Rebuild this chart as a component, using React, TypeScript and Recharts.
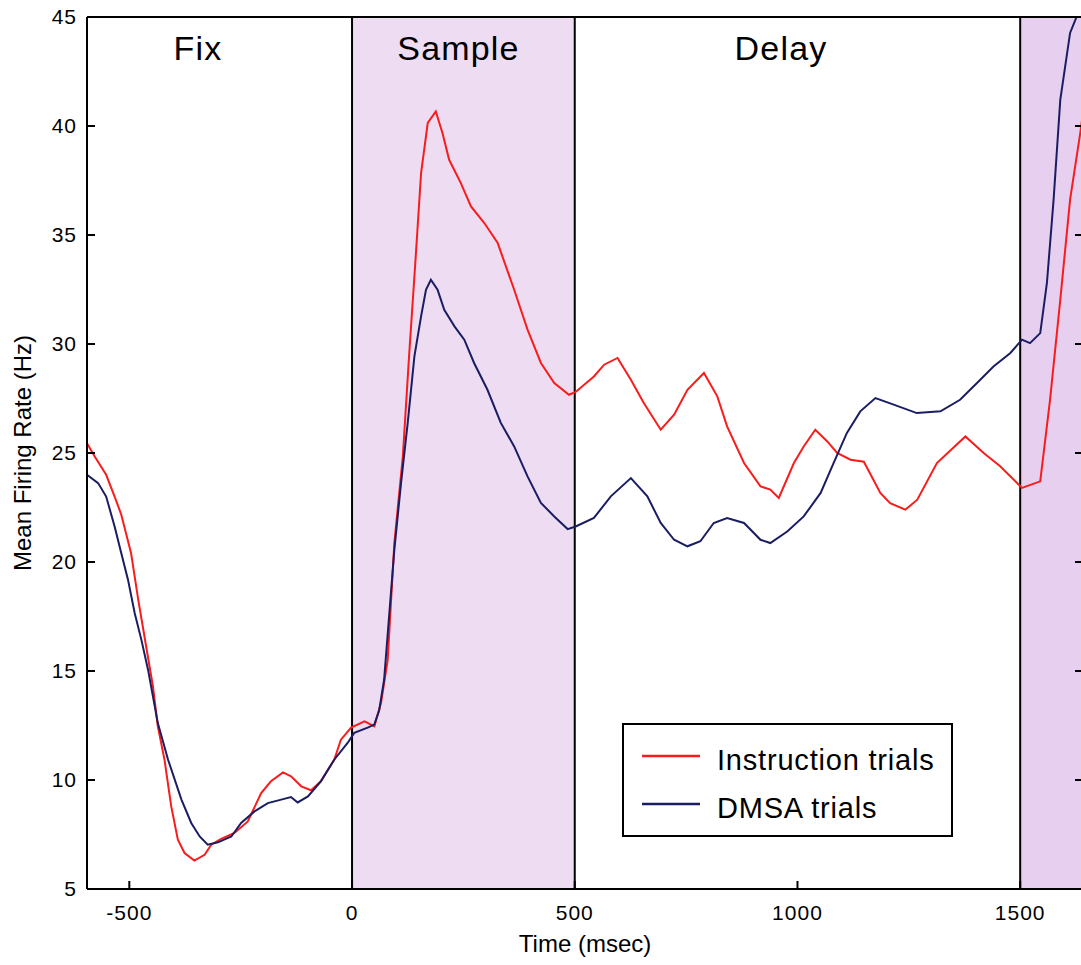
import {
  LineChart,
  Line,
  XAxis,
  YAxis,
  ReferenceArea,
  ReferenceLine,
  ReferenceDot,
  Legend,
} from "recharts";

// time axis (msec) and firing rate (Hz)
const instructionTime = [
  -595, -578, -552, -533, -518, -496, -480, -462, -447, -436, -421, -406, -391, -376, -354, -331, -316, -294,
  -264, -234, -204, -182, -155, -137, -114, -92, -70, -40, -25, -2, 28, 50, 65, 80, 95, 114, 128, 143, 155,
  170, 188, 203, 218, 244, 267, 297, 327, 364, 394, 424, 454, 487, 502, 543, 566, 596, 626, 655, 693, 723,
  753, 790, 820, 842, 880, 917, 939, 958, 992, 1014, 1040, 1067, 1089, 1119, 1149, 1186, 1208, 1242, 1269,
  1313, 1377, 1418, 1455, 1504, 1545, 1567, 1590, 1612, 1635, 1641,
];
const instructionRate = [
  25.45, 24.85, 24.0, 23.0, 22.17, 20.4, 18.27, 16.1, 14.3, 12.46, 10.93, 8.8, 7.26, 6.65, 6.3, 6.57, 7.03,
  7.3, 7.57, 8.1, 9.4, 9.94, 10.35, 10.17, 9.71, 9.53, 9.94, 10.93, 11.85, 12.4, 12.69, 12.46, 13.53, 15.5,
  20.87, 24.84, 29.43, 34.02, 37.84, 40.14, 40.67, 39.68, 38.45, 37.39, 36.31, 35.55, 34.63, 32.49, 30.66,
  29.13, 28.21, 27.67, 27.8, 28.51, 29.05, 29.36, 28.36, 27.29, 26.07, 26.76, 27.9, 28.67, 27.6, 26.22,
  24.54, 23.47, 23.32, 22.94, 24.54, 25.3, 26.07, 25.53, 25.0, 24.69, 24.6, 23.17, 22.7, 22.4, 22.86, 24.54,
  25.76, 25.0, 24.39, 23.4, 23.7, 27.44, 32.03, 36.62, 39.7, 40.6,
];

const dmsaTime = [
  -595, -570, -552, -533, -518, -503, -488, -473, -458, -436, -413, -383, -361, -342, -324, -301, -271, -249,
  -219, -189, -159, -137, -122, -99, -70, -40, -10, 5, 35, 50, 61, 72, 95, 110, 125, 140, 155, 166, 177, 192,
  207, 230, 252, 274, 304, 334, 364, 394, 424, 454, 484, 502, 543, 581, 626, 663, 693, 723, 753, 782, 812,
  842, 880, 917, 939, 977, 1014, 1052, 1081, 1111, 1141, 1175, 1216, 1268, 1321, 1365, 1403, 1440, 1478,
  1504, 1522, 1545, 1560, 1575, 1590, 1612, 1627, 1641,
];
const dmsaRate = [
  24.0, 23.62, 23.0, 21.63, 20.4, 19.19, 17.66, 16.44, 15.06, 12.61, 10.93, 9.1, 8.03, 7.41, 7.03, 7.14, 7.41,
  8.03, 8.56, 8.94, 9.1, 9.22, 8.97, 9.25, 9.94, 10.93, 11.7, 12.16, 12.4, 12.54, 13.2, 14.6, 20.57, 23.62,
  26.38, 29.43, 31.27, 32.49, 32.95, 32.49, 31.57, 30.81, 30.2, 29.13, 27.9, 26.38, 25.3, 23.93, 22.71, 22.09,
  21.51, 21.63, 22.02, 23.01, 23.85, 23.01, 21.79, 21.02, 20.72, 20.95, 21.79, 22.02, 21.79, 21.02, 20.87,
  21.4, 22.09, 23.17, 24.54, 25.92, 26.91, 27.52, 27.22, 26.83, 26.91, 27.44, 28.21, 28.97, 29.59, 30.2,
  30.04, 30.5, 32.8, 36.62, 41.2, 44.27, 45.03, 47.5,
];

const seriesNames = ["Instruction trials", "DMSA trials"];
const xTicks = [-500, 0, 500, 1000, 1500];
const yTicks = [5, 10, 15, 20, 25, 30, 35, 40, 45];
const xDomain = [-595, 1641];
const yDomain = [5, 45];

const epochEdges = [0, 500, 1500];
const phaseNames = ["Fix", "Sample", "Delay"];
const phaseCenters = [-346, 239, 963];
const phaseLevel = 43.6;

const instructionData = instructionTime.map((t, i) => ({ t, rate: instructionRate[i] }));
const dmsaData = dmsaTime.map((t, i) => ({ t, rate: dmsaRate[i] }));

const FONT = '"Liberation Sans", Arial, Helvetica, sans-serif';
const RED = "#f81c1c";
const NAVY = "#1b1d62";

function LegendBox({ payload }: any) {
  // keep the plotting order, not the alphabetical one
  const items = [...(payload ?? [])].sort(
    (a: any, b: any) => seriesNames.indexOf(a.value) - seriesNames.indexOf(b.value)
  );
  return (
    <svg width={331} height={114} style={{ display: "block" }}>
      <rect x={1} y={1} width={329} height={112} fill="#fff" stroke="#000" strokeWidth={2} />
      {items.map((p: any, i: number) => (
        <g key={p.value}>
          <line x1={20} x2={78} y1={33 + i * 48} y2={33 + i * 48} stroke={p.color} strokeWidth={2.5} />
          <text x={95} y={47 + i * 48} fontSize={29} letterSpacing={0.8} fill="#000" fontFamily={FONT}>
            {p.value}
          </text>
        </g>
      ))}
    </svg>
  );
}

export default function App() {
  const tickStyle = { fontSize: 21, fill: "#000", fontFamily: FONT, letterSpacing: 1 };
  return (
    <div
      style={{
        position: "fixed",
        left: 0,
        top: 0,
        width: 1081,
        height: 965,
        overflow: "hidden",
        background: "#fff",
        fontFamily: FONT,
      }}
    >
      <LineChart width={1100} height={965} margin={{ top: 16, right: 16, bottom: 0, left: 0 }}>
        <ReferenceArea x1={0} x2={500} fill="#eddcf2" fillOpacity={1} stroke="none" />
        <ReferenceArea x1={1500} x2={xDomain[1]} fill="#e7cfef" fillOpacity={1} stroke="none" />
        {epochEdges.map((x) => (
          <ReferenceLine key={x} x={x} stroke="#000" strokeWidth={2} />
        ))}
        <XAxis
          type="number"
          dataKey="t"
          domain={xDomain}
          ticks={xTicks}
          allowDataOverflow
          height={76}
          tickSize={-8}
          tickMargin={24}
          tick={tickStyle}
          tickLine={{ stroke: "#000", strokeWidth: 2 }}
          axisLine={{ stroke: "#000", strokeWidth: 2 }}
          label={{
            value: "Time (msec)",
            position: "insideBottom",
            offset: 13,
            fontSize: 24,
            fill: "#000",
            fontFamily: FONT,
          }}
        />
        <XAxis
          xAxisId="top"
          orientation="top"
          type="number"
          domain={xDomain}
          ticks={xTicks}
          allowDataOverflow
          height={1}
          tickSize={-8}
          tickFormatter={() => ""}
          tickLine={{ stroke: "#000", strokeWidth: 2 }}
          axisLine={{ stroke: "#000", strokeWidth: 2 }}
        />
        <YAxis
          type="number"
          domain={yDomain}
          ticks={yTicks}
          allowDataOverflow
          width={87}
          tickSize={-8}
          tickMargin={18}
          tick={tickStyle}
          tickLine={{ stroke: "#000", strokeWidth: 2 }}
          axisLine={{ stroke: "#000", strokeWidth: 2 }}
          label={{
            value: "Mean Firing Rate (Hz)",
            angle: -90,
            position: "insideLeft",
            offset: 22,
            fontSize: 24,
            fill: "#000",
            fontFamily: FONT,
            style: { textAnchor: "middle" },
          }}
        />
        <YAxis
          yAxisId="right"
          orientation="right"
          type="number"
          domain={yDomain}
          ticks={yTicks}
          allowDataOverflow
          width={1}
          tickSize={-8}
          tickFormatter={() => ""}
          tickLine={{ stroke: "#000", strokeWidth: 2 }}
          axisLine={{ stroke: "#000", strokeWidth: 2 }}
        />
        {phaseNames.map((name, i) => (
          <ReferenceDot
            key={name}
            x={phaseCenters[i]}
            y={phaseLevel}
            r={0}
            fill="none"
            stroke="none"
            label={{
              value: name,
              position: "center",
              fontSize: 34,
              fill: "#000",
              fontFamily: FONT,
              letterSpacing: 1.2,
            }}
          />
        ))}
        <Line
          data={instructionData}
          dataKey="rate"
          name={seriesNames[0]}
          type="linear"
          stroke={RED}
          strokeWidth={2}
          dot={false}
          activeDot={false}
          isAnimationActive={false}
        />
        <Line
          data={dmsaData}
          dataKey="rate"
          name={seriesNames[1]}
          type="linear"
          stroke={NAVY}
          strokeWidth={2}
          dot={false}
          activeDot={false}
          isAnimationActive={false}
        />
        <Legend
          layout="vertical"
          align="center"
          verticalAlign="middle"
          wrapperStyle={{ left: 622, top: 723, width: 331, height: 114 }}
          content={<LegendBox />}
        />
      </LineChart>
    </div>
  );
}
